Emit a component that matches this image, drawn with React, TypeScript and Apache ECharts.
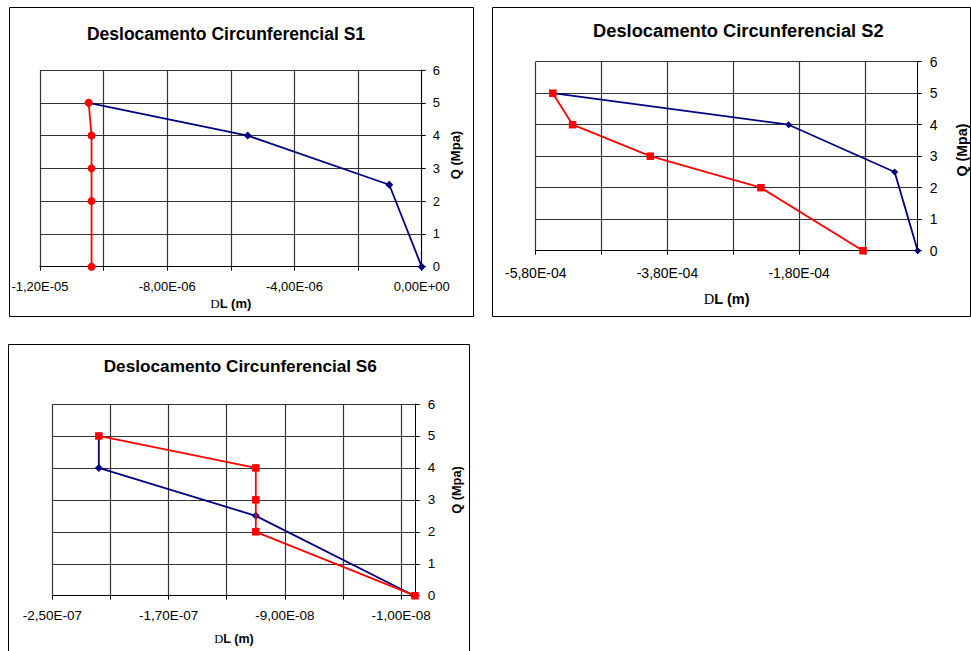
import React, { useEffect, useRef } from 'react';
import * as echarts from 'echarts';

// ---------- Data ----------
const Q_TICKS = [0, 1, 2, 3, 4, 5, 6];

// S1
const S1_TITLE = 'Deslocamento Circunferencial S1';
const S1_Q_BLUE = [0, 2.5, 4, 5];
const S1_DL_BLUE = [0, -1.02e-6, -5.47e-6, -1.047e-5];
const S1_Q_RED = [5, 4, 3, 2, 0];
const S1_DL_RED = [-1.047e-5, -1.038e-5, -1.038e-5, -1.038e-5, -1.038e-5];
const S1_X_TICKS = [-1.2e-5, -1.0e-5, -8e-6, -6e-6, -4e-6, -2e-6, 0];
const S1_X_LABELS = [-1.2e-5, -8e-6, -4e-6, 0];

// S2
const S2_TITLE = 'Deslocamento Circunferencial S2';
const S2_Q_BLUE = [0, 2.5, 4, 5];
const S2_DL_BLUE = [0, -0.35e-4, -1.96e-4, -5.54e-4];
const S2_Q_RED = [5, 4, 3, 2, 0];
const S2_DL_RED = [-5.54e-4, -5.24e-4, -4.06e-4, -2.38e-4, -0.83e-4];
const S2_X_TICKS = [-5.8e-4, -4.8e-4, -3.8e-4, -2.8e-4, -1.8e-4, -8e-5];
const S2_X_LABELS = [-5.8e-4, -3.8e-4, -1.8e-4];

// S6
const S6_TITLE = 'Deslocamento Circunferencial S6';
const S6_Q_BLUE = [0, 2.5, 4, 5];
const S6_DL_BLUE = [-1e-9, -1.1e-7, -2.18e-7, -2.18e-7];
const S6_Q_RED = [5, 4, 3, 2, 0];
const S6_DL_RED = [-2.18e-7, -1.1e-7, -1.1e-7, -1.1e-7, -5e-10];
const S6_X_TICKS = [-2.5e-7, -2.1e-7, -1.7e-7, -1.3e-7, -9e-8, -5e-8, -1e-8];
const S6_X_LABELS = [-2.5e-7, -1.7e-7, -9e-8, -1e-8];

const X_NAME_TEXT = '{d|D}{b|L (m)}';
const Y_NAME = 'Q (Mpa)';

const SANS = 'Liberation Sans, Arial, sans-serif';
const SERIF = 'Liberation Serif, Times New Roman, serif';
const BLUE = '#000080';
const RED = '#FF0000';
const GRID_COLOR = '#333333';

function sci(v: number): string {
  if (Math.abs(v) < 1e-20) return '0,00E+00';
  let e = Math.floor(Math.log10(Math.abs(v)));
  let m = Math.round((v / Math.pow(10, e)) * 100) / 100;
  if (Math.abs(m) >= 10) {
    m = m / 10;
    e += 1;
  }
  const sign = e < 0 ? '-' : '+';
  return m.toFixed(2).replace('.', ',') + 'E' + sign + String(Math.abs(e)).padStart(2, '0');
}

function zip(xs: number[], ys: number[]) {
  return xs.map((x, i) => [x, ys[i]]);
}

type Panel = {
  grid: { left: number; top: number; width: number; height: number };
  min: number;
  max: number;
  ticks: number[];
  labels: number[];
  labelSize: number;
  nameSize: number;
  xLabelMargin: number;
  yLabelMargin: number;
  xNameGap: number;
  blue: number[][];
  red: number[][];
  redSymbol: string;
  blueSize: number;
  redSize: number;
};

const panels: Panel[] = [
  {
    grid: { left: 40, top: 70, width: 381.7, height: 196.7 },
    min: -1.2e-5,
    max: 0,
    ticks: S1_X_TICKS,
    labels: S1_X_LABELS,
    labelSize: 13,
    nameSize: 13,
    xLabelMargin: 13,
    yLabelMargin: 11,
    xNameGap: 30,
    blue: zip(S1_DL_BLUE, S1_Q_BLUE),
    red: zip(S1_DL_RED, S1_Q_RED),
    redSymbol: 'circle',
    blueSize: 8,
    redSize: 8,
  },
  {
    grid: { left: 535.7, top: 61.7, width: 382, height: 189 },
    min: -5.8e-4,
    max: 0,
    ticks: S2_X_TICKS,
    labels: S2_X_LABELS,
    labelSize: 14,
    nameSize: 14.5,
    xLabelMargin: 15,
    yLabelMargin: 12,
    xNameGap: 41,
    blue: zip(S2_DL_BLUE, S2_Q_BLUE),
    red: zip(S2_DL_RED, S2_Q_RED),
    redSymbol: 'rect',
    blueSize: 7,
    redSize: 7.5,
  },
  {
    grid: { left: 52.3, top: 404, width: 363.4, height: 191.7 },
    min: -2.5e-7,
    max: 0,
    ticks: S6_X_TICKS,
    labels: S6_X_LABELS,
    labelSize: 13.5,
    nameSize: 12.5,
    xLabelMargin: 13,
    yLabelMargin: 12,
    xNameGap: 37,
    blue: zip(S6_DL_BLUE, S6_Q_BLUE),
    red: zip(S6_DL_RED, S6_Q_RED),
    redSymbol: 'rect',
    blueSize: 8,
    redSize: 7.5,
  },
];

function buildOption() {
  const grids = panels.map((p) => ({ ...p.grid }));
  const xAxes = panels.map((p, i) => ({
    type: 'value',
    gridIndex: i,
    min: p.min,
    max: p.max,
    position: 'bottom',
    axisLine: { show: true, onZero: false, lineStyle: { color: '#000', width: 1 } },
    axisTick: { show: true, inside: false, length: 4, customValues: p.ticks, lineStyle: { color: '#000' } },
    axisLabel: {
      customValues: p.labels,
      formatter: (v: number) => sci(v),
      margin: p.xLabelMargin,
      color: '#000',
      fontSize: p.labelSize,
      fontFamily: SANS,
    },
    splitLine: { show: true, lineStyle: { color: GRID_COLOR, width: 1.2 } },
    name: X_NAME_TEXT,
    nameLocation: 'middle',
    nameGap: p.xNameGap,
    nameTextStyle: {
      rich: {
        d: { fontFamily: SERIF, fontSize: p.nameSize, color: '#000' },
        b: { fontFamily: SANS, fontWeight: 'bold', fontSize: p.nameSize, color: '#000' },
      },
    },
  }));
  const yAxes = panels.map((p, i) => ({
    type: 'value',
    gridIndex: i,
    position: 'right',
    min: Q_TICKS[0],
    max: Q_TICKS[Q_TICKS.length - 1],
    interval: 1,
    axisLine: { show: true, onZero: false, lineStyle: { color: '#000', width: 1 } },
    axisTick: { show: true, inside: false, length: 4, lineStyle: { color: '#000' } },
    axisLabel: { margin: p.yLabelMargin, color: '#000', fontSize: p.labelSize, fontFamily: SANS },
    splitLine: { show: true, lineStyle: { color: GRID_COLOR, width: 1.2 } },
  }));
  const series: any[] = [];
  panels.forEach((p, i) => {
    series.push({
      type: 'line',
      xAxisIndex: i,
      yAxisIndex: i,
      data: p.blue,
      symbol: 'diamond',
      symbolSize: p.blueSize,
      lineStyle: { color: BLUE, width: 1.8 },
      itemStyle: { color: BLUE },
      z: 2,
    });
    series.push({
      type: 'line',
      xAxisIndex: i,
      yAxisIndex: i,
      data: p.red,
      symbol: p.redSymbol,
      symbolSize: p.redSize,
      lineStyle: { color: RED, width: 1.8 },
      itemStyle: { color: RED },
      z: 3,
    });
  });

  const borders = [
    { x: 9.5, y: 7.5, width: 464, height: 309 },
    { x: 492.5, y: 7.5, width: 478, height: 309 },
    { x: 8.5, y: 344.5, width: 461, height: 320 },
  ];
  const titles = [
    { text: S1_TITLE, x: 226, y: 33.5, size: 17.5 },
    { text: S2_TITLE, x: 738.3, y: 30, size: 18.3 },
    { text: S6_TITLE, x: 240.3, y: 366, size: 17.2 },
  ];
  const yNames = [
    { x: 455, y: 155, size: 13 },
    { x: 961.5, y: 150, size: 14.2 },
    { x: 456.7, y: 490, size: 12.8 },
  ];
  const graphic: any[] = [];
  borders.forEach((b) =>
    graphic.push({
      type: 'rect',
      shape: b,
      style: { fill: 'none', stroke: '#000', lineWidth: 1 },
      silent: true,
      z: -1,
    })
  );
  titles.forEach((t) =>
    graphic.push({
      type: 'text',
      x: t.x,
      y: t.y,
      style: {
        text: t.text,
        font: `bold ${t.size}px ${SANS}`,
        fill: '#000',
        align: 'center',
        verticalAlign: 'middle',
      },
    })
  );
  yNames.forEach((n) =>
    graphic.push({
      type: 'text',
      x: n.x,
      y: n.y,
      rotation: Math.PI / 2,
      style: {
        text: Y_NAME,
        font: `bold ${n.size}px ${SANS}`,
        fill: '#000',
        align: 'center',
        verticalAlign: 'middle',
      },
    })
  );

  return {
    animation: false,
    backgroundColor: '#ffffff',
    grid: grids,
    xAxis: xAxes,
    yAxis: yAxes,
    series,
    graphic,
  };
}

export default function App() {
  const ref = useRef<HTMLDivElement>(null);
  useEffect(() => {
    if (!ref.current) return;
    const chart = echarts.init(ref.current, null, { renderer: 'svg' });
    chart.setOption(buildOption() as any);
    return () => chart.dispose();
  }, []);
  return (
    <div
      ref={ref}
      style={{ position: 'fixed', left: 0, top: 0, width: 971, height: 651, background: '#fff' }}
    />
  );
}
